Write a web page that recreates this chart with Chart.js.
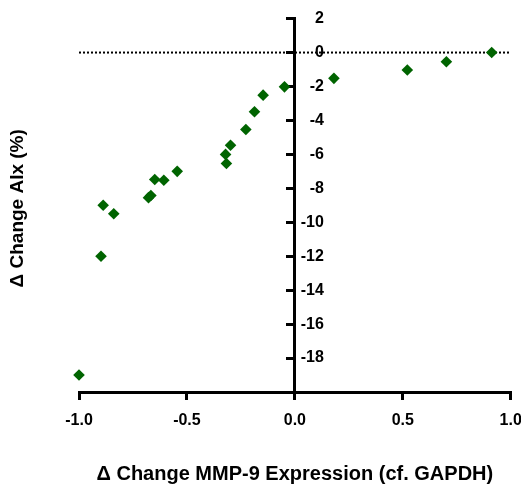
<!DOCTYPE html>
<html>
<head>
<meta charset="utf-8">
<script src="https://cdn.jsdelivr.net/npm/chart.js@4"></script>
<style>
html,body{margin:0;padding:0;background:#fff;}
#wrap{width:521px;height:487px;}
</style>
</head>
<body>
<div id="wrap"><canvas id="c" width="521" height="487"></canvas></div>
<script>
const mmp9Change = [-1.0, -0.898, -0.888, -0.839, -0.678, -0.667, -0.649, -0.607, -0.545, -0.317, -0.321, -0.298, -0.227, -0.187, -0.147, -0.048, 0.181, 0.521, 0.702, 0.912];
const aixChange  = [-19.0, -12.0, -9.0, -9.5, -8.55, -8.42, -7.48, -7.52, -7.0, -6.54, -6.0, -5.46, -4.53, -3.49, -2.51, -2.02, -1.52, -1.03, -0.54, 0.0];
const xTickValues = [-1.0, -0.5, 0.0, 0.5, 1.0];
const yTickValues = [2, 0, -2, -4, -6, -8, -10, -12, -14, -16, -18];
const xTitle = "\u0394 Change MMP-9 Expression (cf. GAPDH)";
const yTitle = "\u0394 Change AIx (%)";
const refLineX = [-1.0, 1.0];
const refLineY = [0, 0];

const FONT = "'Liberation Sans', Arial, sans-serif";
const points = mmp9Change.map((x, i) => ({x: x, y: aixChange[i]}));
const refLine = refLineX.map((x, i) => ({x: x, y: refLineY[i]}));
const yLabelShiftPx = 29;   // labels sit to the right of the y axis line

const shiftTitle = {
  id: 'shiftTitle',
  afterLayout(chart) {
    const s = chart.scales.yt;
    s.top += 3; s.bottom += 3;
  }
};

new Chart(document.getElementById('c'), {
  type: 'scatter',
  plugins: [shiftTitle],
  data: {
    datasets: [
      {
        type: 'line',
        data: refLine,
        borderColor: '#000',
        borderWidth: 2,
        borderDash: [2, 2],
        pointRadius: 0,
        fill: false,
        order: 2
      },
      {
        data: points,
        pointStyle: 'rectRot',
        pointRadius: 5.8,
        pointHoverRadius: 5.8,
        backgroundColor: '#006400',
        borderColor: '#006400',
        borderWidth: 0,
        clip: false,
        order: 1
      }
    ]
  },
  options: {
    responsive: false,
    animation: false,
    events: [],
    layout: { padding: { left: 0, right: 10.3, top: 18.6, bottom: 0 } },
    plugins: { legend: { display: false }, tooltip: { enabled: false } },
    scales: {
      x: {
        type: 'linear',
        position: 'bottom',
        min: -1, max: 1,
        afterBuildTicks: s => { s.ticks = xTickValues.map(v => ({value: v})); },
        afterFit: s => { s.height = 95; s.paddingLeft = 0; s.paddingRight = 0; },
        ticks: {
          callback: v => Number(v).toFixed(1),
          color: '#000',
          padding: 11,
          maxRotation: 0,
          autoSkip: false,
          font: { family: FONT, size: 16, weight: 'bold' }
        },
        grid: { display: true, drawOnChartArea: false, drawTicks: true, tickLength: 8, color: '#000', lineWidth: 3 },
        border: { display: true, color: '#000', width: 3 },
        title: {
          display: true, text: xTitle, color: '#000',
          font: { family: FONT, size: 20, weight: 'bold' },
          padding: { top: 31, bottom: 1 }
        }
      },
      y: {
        type: 'linear',
        position: { x: 0 },
        min: -20, max: 2,
        afterBuildTicks: s => { s.ticks = yTickValues.map(v => ({value: v})); },
        afterFit: s => { s.paddingTop = 0; s.paddingBottom = 0; },
        ticks: { display: false },
        grid: { display: true, drawOnChartArea: false, drawTicks: true, tickLength: 7, color: '#000', lineWidth: 3 },
        border: { display: true, color: '#000', width: 3 }
      },
      yl: {
        type: 'linear',
        position: { x: yLabelShiftPx / 215.7 },
        min: -20, max: 2,
        afterBuildTicks: s => { s.ticks = yTickValues.map(v => ({value: v})); },
        afterFit: s => { s.paddingTop = 0; s.paddingBottom = 0; },
        ticks: {
          callback: v => String(v),
          color: '#000',
          padding: 0,
          autoSkip: false,
          font: { family: FONT, size: 16, weight: 'bold' }
        },
        grid: { display: false, drawTicks: false },
        border: { display: false }
      },
      yt: {
        type: 'linear',
        position: 'left',
        min: -20, max: 2,
        ticks: { display: false },
        grid: { display: false, drawTicks: false },
        border: { display: false },
        title: {
          display: true, text: yTitle, color: '#000',
          font: { family: FONT, size: 19, weight: 'bold' },
          padding: { top: 6.6, bottom: 49.6 }
        }
      }
    }
  }
});
</script>
</body>
</html>
